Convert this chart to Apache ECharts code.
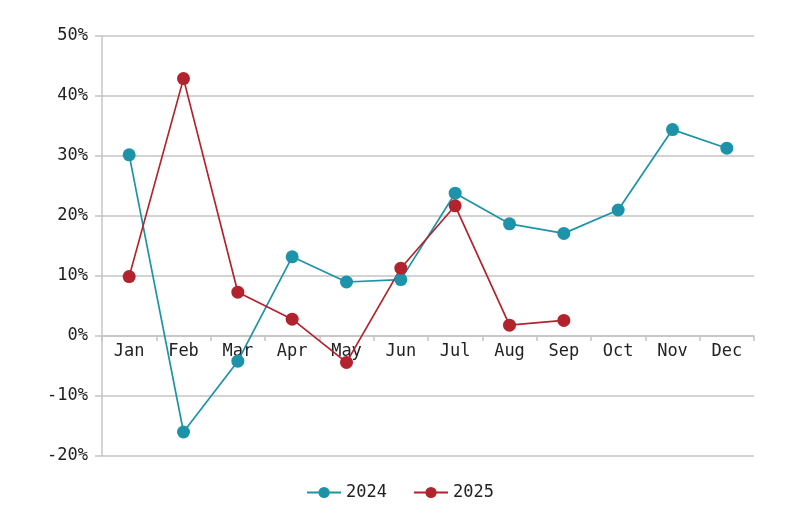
<!DOCTYPE html>
<html>
<head>
<meta charset="utf-8">
<script src="https://cdn.jsdelivr.net/npm/echarts@6/dist/echarts.min.js"></script>
<style>html,body{margin:0;padding:0;background:#fff;}#c{width:800px;height:530px;}</style>
</head>
<body>
<div id="c"></div>
<script>
const months = ['Jan','Feb','Mar','Apr','May','Jun','Jul','Aug','Sep','Oct','Nov','Dec'];
const series2024 = [30.2, -16.0, -4.2, 13.2, 9.0, 9.4, 23.8, 18.7, 17.1, 21.0, 34.4, 31.3];
const series2025 = [9.9, 42.9, 7.3, 2.8, -4.4, 11.3, 21.7, 1.8, 2.6];
const seriesNames = ['2024', '2025'];
const yTicks = { min: -20, max: 50, interval: 10 };
const colors = ['#1c93a9', '#b3232d'];
const FONT = 'DejaVu Sans Mono';

const gridTop = 36, gridBottom = 74, H = 530;
const plotH = H - gridTop - gridBottom;
// move x axis up to the zero line
const zeroOffset = -plotH * (0 - yTicks.min) / (yTicks.max - yTicks.min);

const chart = echarts.init(document.getElementById('c'));
chart.setOption({
  animation: false,
  color: colors,
  textStyle: { fontFamily: FONT },
  grid: { left: 102, right: 46, top: gridTop, bottom: gridBottom, containLabel: false },
  legend: {
    bottom: 24, left: 'center', itemGap: 26, itemWidth: 34, itemHeight: 14,
    textStyle: { fontFamily: FONT, fontSize: 17, color: '#222' },
    data: seriesNames
  },
  xAxis: {
    type: 'category', data: months, boundaryGap: true, position: 'bottom', offset: zeroOffset,
    axisLine: { onZero: false, lineStyle: { color: '#c4c4c4', width: 1.5 } },
    axisTick: { show: true, length: 5, lineStyle: { color: '#c4c4c4', width: 1.5 } },
    axisLabel: { fontFamily: FONT, fontSize: 17, color: '#222', margin: 7, interval: 0 },
    splitLine: { show: false }
  },
  yAxis: {
    type: 'value', min: yTicks.min, max: yTicks.max, interval: yTicks.interval,
    axisLine: { show: true, lineStyle: { color: '#c4c4c4', width: 1.5 } },
    axisTick: { show: true, length: 7, lineStyle: { color: '#c4c4c4', width: 1.5 } },
    axisLabel: { fontFamily: FONT, fontSize: 17, color: '#222', margin: 14, formatter: v => v + '%' },
    splitLine: { show: true, lineStyle: { color: '#c4c4c4', width: 1.5 } }
  },
  series: [
    { name: seriesNames[0], type: 'line', data: series2024, symbol: 'circle', symbolSize: 13,
      lineStyle: { width: 1.7 }, itemStyle: { color: colors[0] } },
    { name: seriesNames[1], type: 'line', data: series2025, symbol: 'circle', symbolSize: 13,
      lineStyle: { width: 1.7 }, itemStyle: { color: colors[1] } }
  ]
});
</script>
</body>
</html>
